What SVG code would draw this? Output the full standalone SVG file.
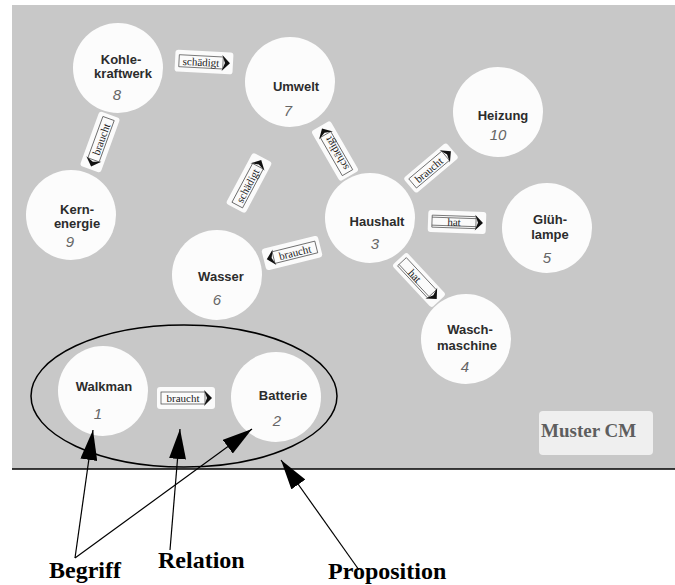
<svg xmlns="http://www.w3.org/2000/svg" width="675" height="585" viewBox="0 0 675 585">
<defs>
<style>
.bg{fill:#c8c8c8}
.node{fill:#fcfcfc}
.nt{font-family:"Liberation Sans",Arial,sans-serif;font-size:13px;font-weight:bold;fill:#2c2c2c;text-anchor:middle}
.num{font-family:"Liberation Sans",Arial,sans-serif;font-size:15px;font-style:italic;fill:#666;text-anchor:middle}
.lab{fill:#fbfbfb}
.lin{fill:none;stroke:#444;stroke-width:0.7}
.chev{fill:#111}
.lt{font-family:"Liberation Serif","Times New Roman",serif;font-size:11px;fill:#222;text-anchor:middle}
.conn{stroke:#000;stroke-width:1.2;fill:none}
.ann{font-family:"Liberation Serif","Times New Roman",serif;font-size:24px;font-weight:bold;fill:#000}
</style>
<marker id="ah" viewBox="0 0 30 17" refX="30" refY="8.5" markerWidth="30" markerHeight="17" markerUnits="userSpaceOnUse" orient="auto">
<path d="M0,0 L30,8.5 L0,17 Z" fill="#000"/>
</marker>
</defs>

<rect class="bg" x="12" y="5" width="663" height="464"/>
<line x1="12" y1="469" x2="675" y2="469" stroke="#000" stroke-width="1.5"/>

<g id="n-kohlekraftwerk">
<circle class="node" cx="118" cy="68" r="45"/>
<text class="nt" x="121" y="64">Kohle-</text>
<text class="nt" x="123" y="78">kraftwerk</text>
<text class="num" x="117" y="100">8</text>
</g>
<g id="n-umwelt">
<circle class="node" cx="290" cy="82" r="45"/>
<text class="nt" x="296" y="91">Umwelt</text>
<text class="num" x="288" y="116">7</text>
</g>
<g id="n-kernenergie">
<circle class="node" cx="71" cy="215" r="45"/>
<text class="nt" x="77" y="214">Kern-</text>
<text class="nt" x="77" y="228">energie</text>
<text class="num" x="70" y="247">9</text>
</g>
<g id="n-heizung">
<circle class="node" cx="498" cy="112" r="45"/>
<text class="nt" x="503" y="120">Heizung</text>
<text class="num" x="498" y="140">10</text>
</g>
<g id="n-haushalt">
<circle class="node" cx="370" cy="218" r="45"/>
<text class="nt" x="377" y="226">Haushalt</text>
<text class="num" x="375" y="249">3</text>
</g>
<g id="n-gluehlampe">
<circle class="node" cx="547" cy="228" r="45"/>
<text class="nt" x="550" y="224">Glüh-</text>
<text class="nt" x="550" y="239">lampe</text>
<text class="num" x="547" y="263">5</text>
</g>
<g id="n-waschmaschine">
<circle class="node" cx="466" cy="339" r="45"/>
<text class="nt" x="470" y="334">Wasch-</text>
<text class="nt" x="467" y="350">maschine</text>
<text class="num" x="465" y="372">4</text>
</g>
<g id="n-wasser">
<circle class="node" cx="217" cy="275" r="45"/>
<text class="nt" x="221" y="281">Wasser</text>
<text class="num" x="217" y="305">6</text>
</g>
<g id="n-walkman">
<circle class="node" cx="103" cy="391" r="45"/>
<text class="nt" x="104" y="391">Walkman</text>
<text class="num" x="98" y="419">1</text>
</g>
<g id="n-batterie">
<circle class="node" cx="276" cy="397" r="45"/>
<text class="nt" x="283" y="400">Batterie</text>
<text class="num" x="277" y="426">2</text>
</g>

<g id="relations">
<g id="r-kohle-umwelt" transform="translate(204,62) rotate(3)">
<rect class="lab" x="-29" y="-11" width="58" height="22" rx="3"/>
<rect class="lin" x="-25" y="-6" width="44" height="12"/>
<path class="chev" d="M18,-8 L26,0 L18,8 L21,0 Z"/>
<text class="lt" x="-3" y="4">schädigt</text>
</g>
<g id="r-kohle-kern" transform="translate(100,142) rotate(-70)">
<rect class="lab" x="-29" y="-11" width="58" height="22" rx="3"/>
<rect class="lin" x="-19" y="-6" width="44" height="12"/>
<path class="chev" d="M-18,-8 L-26,0 L-18,8 L-21,0 Z"/>
<text class="lt" x="3" y="4">braucht</text>
</g>
<g id="r-wasser-umwelt" transform="translate(249,183) rotate(-62)">
<rect class="lab" x="-29" y="-11" width="58" height="22" rx="3"/>
<rect class="lin" x="-25" y="-6" width="44" height="12"/>
<path class="chev" d="M18,-8 L26,0 L18,8 L21,0 Z"/>
<text class="lt" x="-3" y="4">schädigt</text>
</g>
<g id="r-haushalt-umwelt" transform="translate(335,151) rotate(-120)">
<rect class="lab" x="-29" y="-11" width="58" height="22" rx="3"/>
<rect class="lin" x="-25" y="-6" width="44" height="12"/>
<path class="chev" d="M18,-8 L26,0 L18,8 L21,0 Z"/>
<text class="lt" x="-3" y="4">schädigt</text>
</g>
<g id="r-haushalt-heizung" transform="translate(431,168) rotate(-40)">
<rect class="lab" x="-28" y="-10" width="56" height="20" rx="3"/>
<rect class="lin" x="-24" y="-6" width="43" height="12"/>
<path class="chev" d="M18,-8 L26,0 L18,8 L21,0 Z"/>
<text class="lt" x="-3" y="4">braucht</text>
</g>
<g id="r-haushalt-gluehlampe" transform="translate(457,222) rotate(2)">
<rect class="lab" x="-29" y="-11" width="58" height="22" rx="3"/>
<rect class="lin" x="-25" y="-6" width="44" height="12"/>
<line class="lin" x1="-25" y1="-4" x2="19" y2="-4"/>
<line class="lin" x1="-25" y1="4" x2="19" y2="4"/>
<path class="chev" d="M18,-8 L26,0 L18,8 L21,0 Z"/>
<text class="lt" x="-3" y="4">hat</text>
</g>
<g id="r-haushalt-wasch" transform="translate(419,280) rotate(47)">
<rect class="lab" x="-29" y="-10" width="58" height="20" rx="3"/>
<rect class="lin" x="-25" y="-6" width="44" height="12"/>
<line class="lin" x1="-25" y1="4" x2="19" y2="4"/>
<path class="chev" d="M18,-8 L26,0 L18,8 L21,0 Z"/>
<text class="lt" x="-6" y="4">hat</text>
</g>
<g id="r-haushalt-wasser" transform="translate(292,253) rotate(-14)">
<rect class="lab" x="-29" y="-11" width="58" height="22" rx="3"/>
<rect class="lin" x="-19" y="-6" width="44" height="12"/>
<path class="chev" d="M-18,-8 L-26,0 L-18,8 L-21,0 Z"/>
<text class="lt" x="3" y="4">braucht</text>
</g>
<g id="r-walkman-batterie" transform="translate(186,398)">
<rect class="lab" x="-29" y="-11" width="58" height="22" rx="3"/>
<rect class="lin" x="-25" y="-6" width="44" height="12"/>
<path class="chev" d="M18,-8 L26,0 L18,8 L21,0 Z"/>
<text class="lt" x="-3" y="4">braucht</text>
</g>
</g>

<g id="muster">
<rect x="539" y="411" width="114" height="44" rx="4" fill="#efefef"/>
<text x="541" y="437" font-family="'Liberation Serif','Times New Roman',serif" font-size="19" font-weight="bold" fill="#5e5e5e">Muster CM</text>
</g>

<g id="proposition-ellipse">
<ellipse cx="184" cy="396" rx="153" ry="71" fill="none" stroke="#000" stroke-width="1.5"/>
</g>

<g id="connectors">
<line class="conn" x1="75" y1="558" x2="93" y2="430" marker-end="url(#ah)"/>
<line class="conn" x1="75" y1="558" x2="252" y2="429" marker-end="url(#ah)"/>
<line class="conn" x1="170" y1="550" x2="180" y2="429" marker-end="url(#ah)"/>
<line class="conn" x1="359" y1="570" x2="281" y2="460" marker-end="url(#ah)"/>
</g>

<g id="annotations">
<text class="ann" x="49" y="578">Begriff</text>
<text class="ann" x="158" y="568">Relation</text>
<text class="ann" x="328" y="579">Proposition</text>
</g>
</svg>
